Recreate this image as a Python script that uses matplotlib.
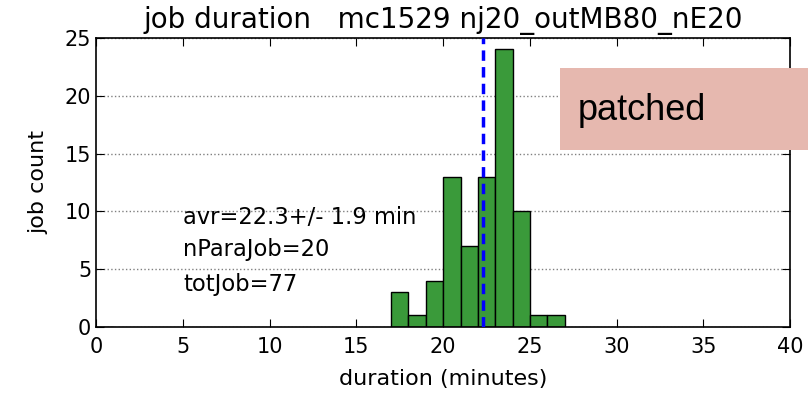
import matplotlib
matplotlib.use('Agg')
import matplotlib.pyplot as plt
from matplotlib.ticker import MultipleLocator

# histogram of job durations (1 minute bins)
bin_left = [0, 17, 18, 19, 20, 21, 22, 23, 24, 25, 26]
counts = [0, 3, 1, 4, 13, 7, 13, 24, 10, 1, 1]
avr = 22.3
title = 'job duration   mc1529 nj20_outMB80_nE20'
info = ['avr=22.3+/- 1.9 min', 'nParaJob=20', 'totJob=77']

fig = plt.figure(figsize=(8.08, 3.95), dpi=100)
ax = fig.add_axes([0.119, 0.172, 0.859, 0.732])

ax.bar(bin_left, counts, width=1.0, align='edge', color='#3a9a3a',
       edgecolor='black', linewidth=1.0, zorder=2)
ax.axvline(avr, color='blue', linestyle='--', linewidth=2.5, dashes=(3, 1.8), zorder=3)

ax.set_xlim(0, 40)
ax.set_ylim(0, 25)
ax.xaxis.set_major_locator(MultipleLocator(5))
ax.yaxis.set_major_locator(MultipleLocator(5))
ax.yaxis.grid(True, linestyle=':', color='gray', linewidth=1.0, zorder=0)
ax.tick_params(direction='in', top=True, right=True, labelsize=15, length=6)
ax.tick_params(axis='x', pad=7)
for s in ax.spines.values():
    s.set_linewidth(1.2)

ax.set_xlabel('duration (minutes)', fontsize=16, labelpad=9)
ax.set_ylabel('job count', fontsize=16, labelpad=12)
ax.set_title(title, fontsize=20, pad=7)

for yv, t in zip([9.5, 6.7, 3.7], info):
    ax.text(5, yv, t, fontsize=16.3, va='center', ha='left', zorder=4)

# overlay box on the upper right
fig.patches.append(plt.Rectangle((0.693, 0.62), 0.31, 0.208, transform=fig.transFigure,
                                 facecolor='#e6b8af', edgecolor='none', zorder=9))
fig.text(0.715, 0.72, 'patched', fontsize=26, family='Liberation Sans',
         va='center', ha='left', zorder=10)

plt.savefig('out.png', dpi=100)
